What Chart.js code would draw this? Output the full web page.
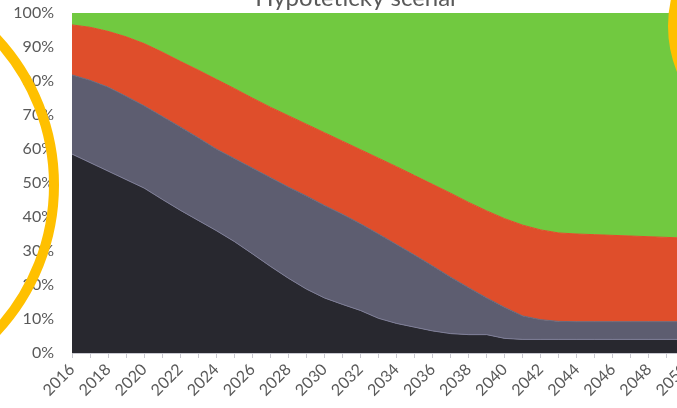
<!DOCTYPE html>
<html>
<head>
<meta charset="utf-8">
<script src="https://cdn.jsdelivr.net/npm/chart.js@4.4.1/dist/chart.umd.min.js"></script>
<style>
html,body{margin:0;padding:0;overflow:hidden;background:#fff;width:677px;height:408px}
#wrap{position:absolute;left:0;top:0;width:700px;height:408px}
</style>
</head>
<body>
<div id="wrap"><canvas id="c" width="700" height="408"></canvas></div>
<script>
const titleText = 'Hypotetický scénář';
const years = [2016,2017,2018,2019,2020,2021,2022,2023,2024,2025,2026,2027,2028,2029,2030,2031,2032,2033,2034,2035,2036,2037,2038,2039,2040,2041,2042,2043,2044,2045,2046,2047,2048,2049,2050];
const series1 = [58.5,56,53.5,51,48.5,45.2,42,39,36,32.8,29.2,25.5,22,18.8,16.2,14.3,12.5,10.2,8.7,7.6,6.5,5.7,5.4,5.4,4.3,4,4,4,4,4,4,4,4,4,4];
const series2 = [23.3,24.2,24.7,24.5,24.2,24.4,24.5,24.3,24,24.4,25.2,26.1,26.8,27.4,27.2,26.5,25.5,24.8,23.2,21.2,19.1,16.6,13.8,10.8,9.1,6.9,5.8,5.3,5.2,5.2,5.2,5.2,5.2,5.2,5.2];
const series3 = [14.7,15.6,16.4,17.5,18.3,18.9,19.3,19.9,20.5,20.6,20.6,20.7,21,21.1,21.4,21.5,21.8,22.3,22.9,23.4,24,24.7,25.1,25.6,26.1,26.7,26.4,26,25.8,25.6,25.4,25.2,25,24.8,24.6];
const series4 = [3.5,4.2,5.4,7,9,11.5,14.2,16.8,19.5,22.2,25,27.7,30.2,32.7,35.2,37.7,40.2,42.7,45.2,47.8,50.4,53,55.7,58.2,60.5,62.4,63.8,64.7,65,65.2,65.4,65.6,65.8,66,66.2];
const yTicks = [0,10,20,30,40,50,60,70,80,90,100];

const decor = {
  id: 'decor',
  afterDraw(chart) {
    const ctx = chart.ctx;
    ctx.save();
    ctx.fillStyle = '#595959';
    ctx.font = '24px Lato, "Open Sans", sans-serif';
    ctx.textAlign = 'center';
    ctx.textBaseline = 'alphabetic';
    ctx.fillText(titleText, 357, 6);
    ctx.strokeStyle = '#FFC000';
    ctx.lineWidth = 10;
    ctx.beginPath(); ctx.arc(-161, 185, 215, 0, Math.PI * 2); ctx.stroke();
    ctx.beginPath(); ctx.arc(790, 26, 117, 0, Math.PI * 2); ctx.stroke();
    ctx.restore();
  }
};

const mk = (data, fill, border, fillMode) => ({
  data, backgroundColor: fill, borderColor: border, borderWidth: 1,
  fill: fillMode, pointRadius: 0, tension: 0
});

new Chart(document.getElementById('c'), {
  type: 'line',
  data: {
    labels: years,
    datasets: [
      mk(series1, '#28282f', '#7e7e98', 'origin'),
      mk(series2, '#5d5d70', '#6a6a7c', '-1'),
      mk(series3, '#df4e2b', '#df4e2b', '-1'),
      mk(series4, '#71c940', '#71c940', '-1')
    ]
  },
  options: {
    responsive: false,
    animation: false,
    layout: { padding: { top: 13, right: 15, left: 0, bottom: 0 } },
    plugins: { legend: { display: false }, tooltip: { enabled: false }, title: { display: false } },
    scales: {
      x: {
        offset: false,
        afterFit(s) { s.height = 55; s.paddingLeft = 0; s.paddingRight = 0; },
        grid: { drawOnChartArea: false, drawTicks: true, tickLength: 5, color: '#c8c8d0' },
        border: { color: '#c8c8d0' },
        ticks: {
          autoSkip: false, minRotation: 45, maxRotation: 45, padding: 2,
          color: '#595959', font: { family: 'Lato', size: 16 },
          callback: (v, i) => (i % 2 === 0 ? String(years[i]) : '')
        }
      },
      y: {
        stacked: true,
        min: 0, max: 100,
        afterFit(s) { s.width = 72; s.paddingTop = 0; s.paddingBottom = 0; },
        afterBuildTicks(s) { s.ticks = yTicks.map(v => ({ value: v })); },
        grid: { drawTicks: false, color: '#d9d9d9' },
        border: { color: '#bfbfbf' },
        ticks: {
          padding: 18, color: '#595959', font: { family: 'Lato', size: 16 },
          callback: v => v + '%'
        }
      }
    }
  },
  plugins: [decor]
});
</script>
</body>
</html>
